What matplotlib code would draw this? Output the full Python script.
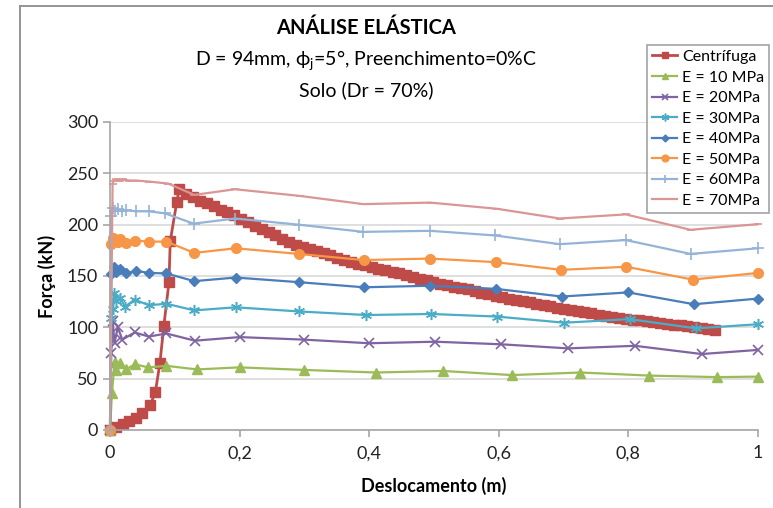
import matplotlib
matplotlib.use("Agg")
import matplotlib.pyplot as plt
from matplotlib.lines import Line2D

plt.rcParams['font.family'] = ['Lato', 'DejaVu Sans']
plt.rcParams['mathtext.default'] = 'regular'

# Centrifuge test: load vs displacement
cent_x = [0.000, 0.010, 0.020, 0.029, 0.040, 0.050, 0.062, 0.070, 0.077, 0.083,
          0.091, 0.093, 0.103,
          0.107, 0.118, 0.128, 0.139, 0.149, 0.160, 0.171, 0.181, 0.192, 0.202,
          0.213, 0.224, 0.234, 0.245, 0.255, 0.266, 0.277, 0.287, 0.298, 0.308,
          0.319, 0.330, 0.340, 0.351, 0.361, 0.372, 0.383, 0.393, 0.404, 0.414,
          0.425, 0.436, 0.446, 0.457, 0.467, 0.478, 0.489, 0.499, 0.510, 0.520,
          0.531, 0.542, 0.552, 0.563, 0.573, 0.584, 0.595, 0.605, 0.616, 0.626,
          0.637, 0.648, 0.658, 0.669, 0.679, 0.690, 0.701, 0.711, 0.722, 0.732,
          0.743, 0.754, 0.764, 0.775, 0.785, 0.796, 0.807, 0.817, 0.828, 0.838,
          0.849, 0.860, 0.870, 0.881, 0.891, 0.902, 0.913, 0.923, 0.934]
cent_y = [0, 3, 6, 9, 12, 17, 24, 37, 65, 101,
          144, 184, 222,
          235, 230, 227, 223, 221, 218, 214, 212, 209, 206,
          203, 199, 196, 193, 190, 186, 183, 180, 178, 176,
          174, 172, 170, 168, 166, 164, 162, 160.5, 159, 157,
          155.5, 154, 152.5, 151, 149, 147.5, 146, 144, 142.5, 141,
          139.5, 138, 137, 135, 133.5, 132, 131, 129.5, 128, 127,
          126, 124.5, 123, 121.5, 120.5, 119, 118, 117, 115.5, 114.5,
          113.5, 112.5, 111.5, 110.5, 109.5, 108.5, 107.5, 107, 106, 105,
          104.5, 103.5, 102.5, 102, 101, 100, 99, 98, 97]

# Elastic analyses for several soil moduli
e10_x = [0, 0.003, 0.007, 0.010, 0.016, 0.025, 0.038, 0.059, 0.087, 0.134,
         0.200, 0.300, 0.410, 0.514, 0.620, 0.726, 0.832, 0.937, 1.000]
e10_y = [0, 36, 66, 58, 65.5, 59, 64, 61, 62.5, 59,
         61, 58.5, 56, 57.5, 53.5, 56, 53, 51.5, 52]

e20_x = [0, 0.002, 0.004, 0.007, 0.012, 0.019, 0.038, 0.060, 0.087, 0.131,
         0.200, 0.300, 0.400, 0.502, 0.603, 0.707, 0.810, 0.913, 1.000]
e20_y = [0, 75, 106, 85, 100, 88, 95, 91, 94, 87,
         90.5, 88, 84.5, 86, 83.5, 79.5, 82, 74, 78]

e30_x = [0, 0.002, 0.004, 0.006, 0.010, 0.016, 0.023, 0.038, 0.060, 0.087,
         0.130, 0.194, 0.291, 0.395, 0.496, 0.597, 0.701, 0.802, 0.904, 1.000]
e30_y = [0, 109, 118, 133, 126, 129, 120, 127, 121.5, 123,
         116.5, 119.5, 115.5, 112, 113, 110.5, 104.5, 108, 99, 103]

e40_x = [0, 0.002, 0.006, 0.010, 0.016, 0.025, 0.040, 0.060, 0.087, 0.130,
         0.194, 0.291, 0.392, 0.494, 0.595, 0.697, 0.800, 0.901, 1.000]
e40_y = [0, 152, 159, 154, 157, 152.5, 155, 153, 152.5, 145,
         148.5, 144, 139, 140.5, 137.5, 130, 134, 122.5, 128]

e50_x = [0, 0.002, 0.005, 0.008, 0.012, 0.016, 0.025, 0.038, 0.060, 0.087,
         0.130, 0.194, 0.291, 0.392, 0.494, 0.595, 0.696, 0.797, 0.899, 1.000]
e50_y = [0, 181, 187, 185, 183, 186, 182.5, 184.5, 183.5, 183.5,
         172.5, 177, 171.5, 165.5, 167, 163.5, 156, 159, 146.5, 153]

e60_x = [0, 0.002, 0.004, 0.008, 0.012, 0.018, 0.025, 0.040, 0.060, 0.085,
         0.129, 0.193, 0.291, 0.391, 0.494, 0.594, 0.694, 0.796, 0.896, 1.000]
e60_y = [0, 208, 216, 213, 215, 213, 214, 213, 213, 211,
         201, 206, 200, 193, 194, 189.5, 181, 185, 171.5, 177]

e70_x = [0, 0.004, 0.006, 0.010, 0.015, 0.020, 0.030, 0.040, 0.060, 0.090,
         0.130, 0.193, 0.293, 0.391, 0.494, 0.597, 0.694, 0.796, 0.896, 1.000]
e70_y = [0, 240, 243, 244, 243, 244, 243, 243, 242, 240,
         229, 234.5, 228, 220, 221.5, 215.5, 206, 210, 195, 200.5]

labels = ['Centrífuga', 'E = 10 MPa', 'E = 20MPa', 'E = 30MPa',
          'E = 40MPa', 'E = 50MPa', 'E = 60MPa', 'E = 70MPa']

x_ticks = [0, 0.2, 0.4, 0.6, 0.8, 1.0]
x_tick_labels = ['0', '0,2', '0,4', '0,6', '0,8', '1']
y_ticks = [0, 50, 100, 150, 200, 250, 300]

fig = plt.figure(figsize=(7.73, 5.08), dpi=100)
ax = fig.add_axes([110 / 773, 1 - 430 / 508, 648 / 773, 308 / 508])

series = [
    (cent_x, cent_y, dict(color='#BE4B48', marker='s', ms=6.5, lw=2.0)),
    (e10_x, e10_y, dict(color='#9BBB59', marker='^', ms=6.5, lw=1.6)),
    (e20_x, e20_y, dict(color='#8064A2', marker='x', ms=6.5, mew=1.2, lw=1.6)),
    (e30_x, e30_y, dict(color='#4BACC6', marker=(6, 2, 0), ms=8, mew=1.1, lw=1.6)),
    (e40_x, e40_y, dict(color='#4A7EBB', marker='D', ms=5, lw=1.6)),
    (e50_x, e50_y, dict(color='#F79646', marker='o', ms=7, lw=1.6)),
    (e60_x, e60_y, dict(color='#95B3D7', marker='+', ms=8, mew=1.2, lw=1.6)),
    (e70_x, e70_y, dict(color='#D99694', marker='_', ms=6, mew=1.2, lw=1.6)),
]
for (xs, ys, style), lab in zip(series, labels):
    ax.plot(xs, ys, label=lab, clip_on=False, **style)

ax.set_xlim(0, 1)
ax.set_ylim(0, 300)
ax.set_xticks(x_ticks)
ax.set_xticklabels(x_tick_labels)
ax.set_yticks(y_ticks)
ax.yaxis.grid(True, color='#D9D9D9', lw=1.2)
ax.set_axisbelow(True)
for side in ('top', 'right'):
    ax.spines[side].set_visible(False)
for side in ('left', 'bottom'):
    ax.spines[side].set_color('#A6A6A6')
    ax.spines[side].set_linewidth(1.2)
ax.tick_params(axis='both', colors='#A6A6A6', length=5, width=1.2,
               labelsize=13, labelcolor='#222222')
ax.tick_params(axis='x', pad=6)

ax.set_xlabel('Deslocamento (m)', fontsize=13, fontweight='bold', labelpad=11)
ax.set_ylabel('Força (kN)', fontsize=13, fontweight='bold', labelpad=8)

fig.text(366 / 773, 1 - 28 / 508, 'ANÁLISE ELÁSTICA', ha='center', va='center',
         fontsize=14.5, fontweight='bold')
fig.text(366 / 773, 1 - 60 / 508, 'D = 94mm, ϕ$_{j}$=5°, Preenchimento=0%C',
         ha='center', va='center', fontsize=14)
fig.text(366 / 773, 1 - 90 / 508, 'Solo (Dr = 70%)', ha='center', va='center',
         fontsize=14)

leg = ax.legend(loc='upper left', bbox_to_anchor=(647 / 773, 1 - 45 / 508),
                bbox_transform=fig.transFigure, fontsize=11.5, frameon=True,
                fancybox=False, edgecolor='#8C8C8C', borderpad=0.3,
                labelspacing=0.4, handlelength=1.6, handletextpad=0.3,
                borderaxespad=0, markerscale=0.7)
leg.get_frame().set_linewidth(1.2)

# outer chart frame
fig.add_artist(Line2D([19.5 / 773, 19.5 / 773], [0, 1 - 5.5 / 508],
                      transform=fig.transFigure, color='#8C8C8C', lw=1.3))
fig.add_artist(Line2D([19.5 / 773, 1], [1 - 5.5 / 508, 1 - 5.5 / 508],
                      transform=fig.transFigure, color='#8C8C8C', lw=1.3))

fig.savefig('out.png', dpi=100)
